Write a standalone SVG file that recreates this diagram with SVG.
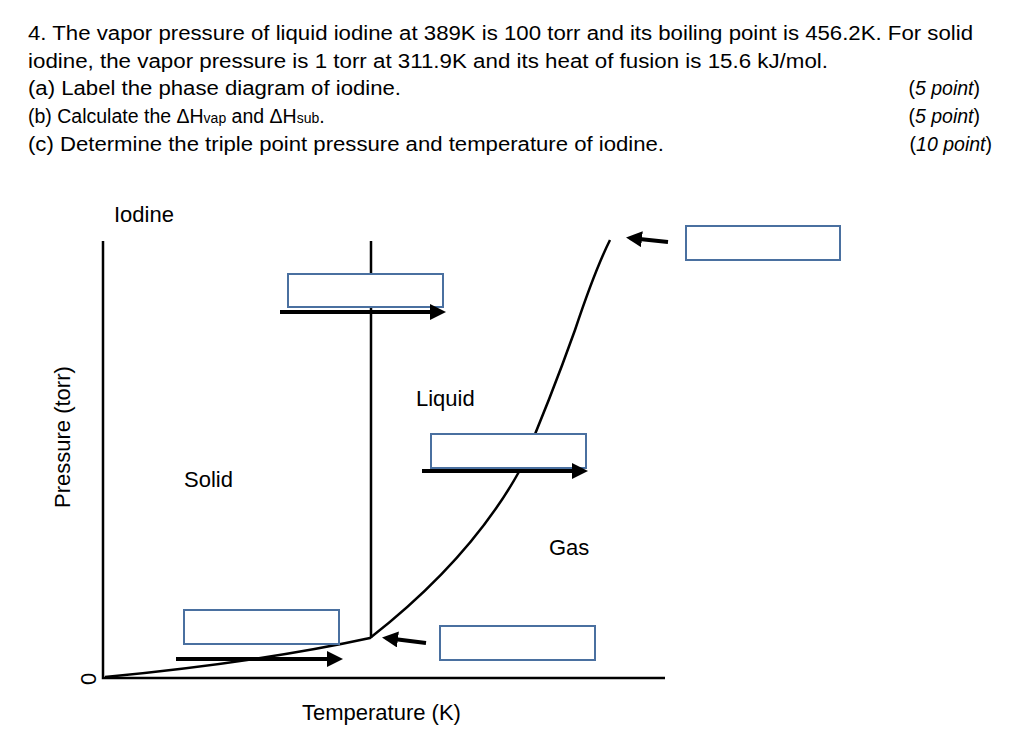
<svg xmlns="http://www.w3.org/2000/svg" width="1024" height="732" viewBox="0 0 1024 732">
<style>
text{font-family:"Liberation Sans",Arial,sans-serif;fill:#000}
.q{font-size:19.5px}
.l{font-size:22px}
.box{fill:#fff;stroke:#4a70a0;stroke-width:2}
.ln{fill:none;stroke:#000;stroke-width:2.5}
.ar{stroke:#000;stroke-width:4;marker-end:url(#ah)}
</style>
<defs><marker id="ah" markerWidth="4" markerHeight="4" refX="3" refY="2" orient="auto" markerUnits="strokeWidth"><path d="M0,0L4,2L0,4Z" fill="#000"/></marker></defs>
<g id="question">
<text class="q" x="28" y="40" textLength="945" lengthAdjust="spacingAndGlyphs">4. The vapor pressure of liquid iodine at 389K is 100 torr and its boiling point is 456.2K. For solid</text>
<text class="q" x="28" y="68" textLength="800" lengthAdjust="spacingAndGlyphs">iodine, the vapor pressure is 1 torr at 311.9K and its heat of fusion is 15.6 kJ/mol.</text>
<text class="q" x="28" y="95" textLength="373" lengthAdjust="spacingAndGlyphs">(a) Label the phase diagram of iodine.</text>
<text class="q" x="28" y="123">(b) Calculate the ΔH<tspan font-size="14">vap</tspan> and ΔH<tspan font-size="14">sub</tspan>.</text>
<text class="q" x="28" y="151" textLength="636" lengthAdjust="spacingAndGlyphs">(c) Determine the triple point pressure and temperature of iodine.</text>
<text class="q" x="980" y="95" text-anchor="end">(<tspan font-style="italic">5 point</tspan>)</text>
<text class="q" x="980" y="123" text-anchor="end">(<tspan font-style="italic">5 point</tspan>)</text>
<text class="q" x="992" y="151" text-anchor="end">(<tspan font-style="italic">10 point</tspan>)</text>
</g>
<g id="axes">
<path class="ln" d="M103,241V678H665" stroke-width="3.5"/>
<text class="l" x="114" y="222" font-size="21">Iodine</text>
<text class="l" x="302" y="720" font-size="20">Temperature (K)</text>
<text class="l" transform="translate(70,508) rotate(-90)" font-size="20">Pressure (torr)</text>
<text class="l" transform="translate(96,685) rotate(-90)" font-size="20">0</text>
</g>
<g id="curves">
<path class="ln" d="M371,241V638"/>
<path class="ln" d="M105,677Q260,662 370,638Q470,560 520,470Q550,400 575,330Q595,270 610,240"/>
</g>
<g id="labels">
<text class="l" x="416" y="406">Liquid</text>
<text class="l" x="184" y="487">Solid</text>
<text class="l" x="549" y="555">Gas</text>
</g>
<g id="box1"><rect class="box" x="288" y="274" width="155" height="33"/></g>
<g id="box2"><rect class="box" x="431" y="434" width="155" height="34"/></g>
<g id="box3"><rect class="box" x="184" y="610" width="155" height="34"/></g>
<g id="box4"><rect class="box" x="440" y="626" width="155" height="34"/></g>
<g id="box5"><rect class="box" x="686" y="226" width="154" height="34"/></g>
<g id="connectors">
<line class="ar" x1="280" y1="312" x2="442" y2="312"/>
<line class="ar" x1="422" y1="471" x2="584" y2="471"/>
<line class="ar" x1="176" y1="659" x2="339" y2="659"/>
<line class="ar" x1="426" y1="643" x2="386" y2="638"/>
<line class="ar" x1="668" y1="242" x2="630" y2="238"/>
</g>
</svg>
